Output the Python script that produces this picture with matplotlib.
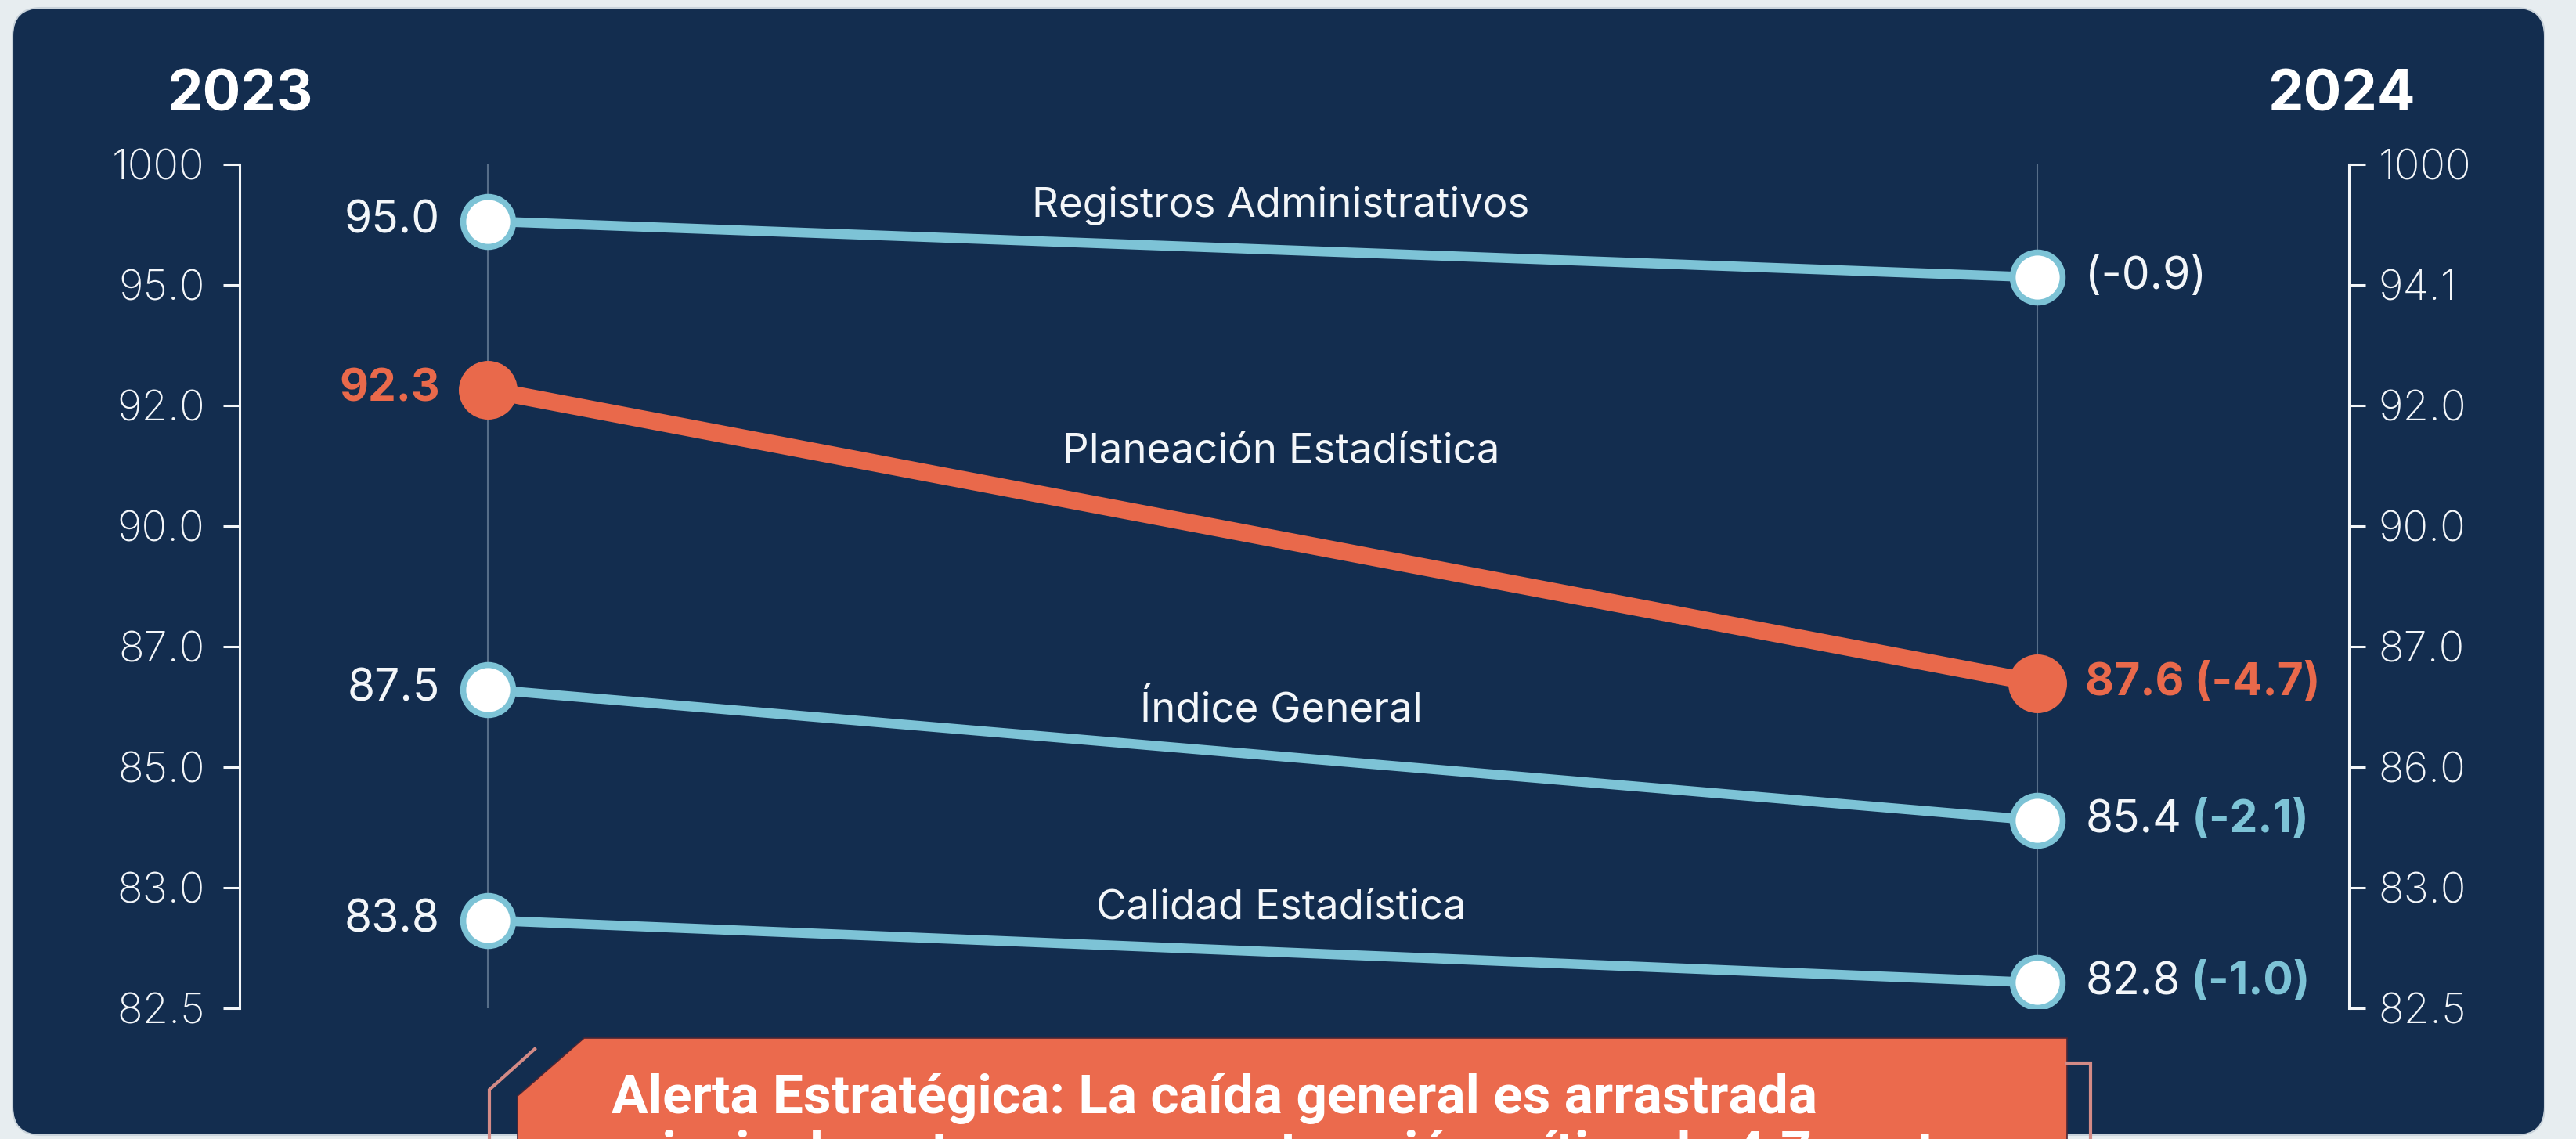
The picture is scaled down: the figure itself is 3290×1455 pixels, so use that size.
import matplotlib
matplotlib.use("Agg")
import matplotlib.pyplot as plt
from matplotlib.patches import FancyBboxPatch, Polygon
import numpy as np

plt.rcParams['font.family'] = ['Inter', 'DejaVu Sans']

# --- Data ---
years = ["2023", "2024"]
series = ["Registros Administrativos", "Planeación Estadística", "Índice General", "Calidad Estadística"]
score_2023 = [95.0, 92.3, 87.5, 83.8]
score_2024 = [94.1, 87.6, 85.4, 82.8]
highlight = "Planeación Estadística"
show_end_value = [False, True, True, True]
left_tick_labels = ["1000", "95.0", "92.0", "90.0", "87.0", "85.0", "83.0", "82.5"]
right_tick_labels = ["1000", "94.1", "92.0", "90.0", "87.0", "86.0", "83.0", "82.5"]
alert_lines = ["Alerta Estratégica: La caída general es arrastrada",
               "principalmente por una contracción crítica de 4.7 puntos"]

# --- Colours ---
page = "#e7edf0"
navy = "#132d4f"
blue = "#7dc3d6"
orange = "#e9694b"
guide = "#566d88"
white = "#f3f6f9"
alert_fill = "#eb6a4d"
bracket = "#d38a86"

W, H = 3290, 1455
fig = plt.figure(figsize=(W / 100, H / 100), dpi=100)
fig.patch.set_facecolor(page)

# background layer in pixel coords (panel, callout, year headers)
bg = fig.add_axes([0, 0, 1, 1])
bg.set_xlim(0, W)
bg.set_ylim(H, 0)
bg.axis('off')
r = 36
bg.add_patch(FancyBboxPatch((16 + r, 10 + r), 3234 - 2 * r, 1440 - 2 * r,
                            boxstyle=f"round,pad={r}", fc=navy, ec="#c9d3db", lw=1.5))

bg.add_patch(Polygon([(661, 1400), (746, 1326), (2640, 1326), (2640, 1480), (661, 1480)],
                     closed=True, fc=alert_fill, ec="#4a2636", lw=1.2))
bg.plot([683, 625, 625], [1340, 1392, 1480], color=bracket, lw=3, solid_joinstyle='miter')
bg.plot([2640, 2670, 2670], [1358, 1358, 1480], color=bracket, lw=3, solid_joinstyle='miter')
bg.text(781, 1422, alert_lines[0], fontsize=50, weight='bold', color='white',
        va='baseline', ha='left', family=['Roboto', 'DejaVu Sans'])
bg.text(781, 1494, alert_lines[1], fontsize=50, weight='bold', color='white',
        va='baseline', ha='left', family=['Roboto', 'DejaVu Sans'])

bg.text(306, 122, years[0], ha='center', va='center', fontsize=52, weight='bold', color='white')
bg.text(2990, 122, years[1], ha='center', va='center', fontsize=52, weight='bold', color='white')

# --- Main slope chart ---
ax = fig.add_axes([306 / W, 1 - 1288 / H, (3000 - 306) / W, (1288 - 210) / H])
ax.set_facecolor('none')
ax.set_xlim(-0.1602, 1.2011)
ax.set_ylim(82.39, 95.91)

for x in (0, 1):
    ax.axvline(x, color=guide, lw=1.5, zorder=1)

for i, name in enumerate(series):
    a, b = score_2023[i], score_2024[i]
    hi = name == highlight
    col = orange if hi else blue
    ax.plot([0, 1], [a, b], color=col, lw=16 if hi else 9, solid_capstyle='butt', zorder=3 if hi else 2)
    if hi:
        ax.plot([0, 1], [a, b], 'o', ms=54, mfc=orange, mec=orange, mew=0, zorder=5)
    else:
        ax.plot([0, 1], [a, b], 'o', ms=46, mfc='white', mec=blue, mew=5.5, zorder=4)

    # start value
    ax.annotate(f"{a:.1f}", (0, a), xytext=(-44, 0), textcoords='offset points',
                ha='right', va='center', fontsize=41,
                color=orange if hi else white, weight='bold' if hi else 'normal')

    # end value + change
    change = f"({b - a:.1f})"
    if hi:
        ax.annotate(f"{b:.1f} {change}", (1, b), xytext=(44, 0), textcoords='offset points',
                    ha='left', va='center', fontsize=41, color=orange, weight='bold')
    elif show_end_value[i]:
        t = ax.annotate(f"{b:.1f}", (1, b), xytext=(44, 0), textcoords='offset points',
                        ha='left', va='center', fontsize=41, color=white)
        ax.annotate(" " + change, xy=(1, 0), xycoords=t, ha='left', va='bottom',
                    fontsize=41, color=blue, weight='bold')
    else:
        ax.annotate(change, (1, b), xytext=(44, 0), textcoords='offset points',
                    ha='left', va='center', fontsize=41, color=white)

    # series name above the line
    ax.annotate(name, (0.5, (a + b) / 2), xytext=(17, 78 if hi else 40), textcoords='offset points',
                ha='center', va='center', fontsize=38, color=white)

ticks = np.linspace(ax.get_ylim()[1], ax.get_ylim()[0], len(left_tick_labels))
ax.set_yticks(ticks, labels=left_tick_labels)
ax.set_xticks([])
ax.tick_params(axis='y', direction='out', length=15, width=2.2, color=white,
               pad=17, labelsize=39, labelcolor=white)
for lbl in ax.get_yticklabels():
    lbl.set_fontweight('light')
for s in ('top', 'bottom', 'right'):
    ax.spines[s].set_visible(False)
ax.spines['left'].set_color(white)
ax.spines['left'].set_linewidth(2.2)

twin = ax.twinx()
twin.set_ylim(ax.get_ylim())
twin.set_yticks(ticks, labels=right_tick_labels)
twin.tick_params(axis='y', direction='out', length=15, width=2.2, color=white,
                 pad=12, labelsize=39, labelcolor=white)
for lbl in twin.get_yticklabels():
    lbl.set_fontweight('light')
for s in ('top', 'bottom', 'left'):
    twin.spines[s].set_visible(False)
twin.spines['right'].set_color(white)
twin.spines['right'].set_linewidth(2.2)

fig.savefig("out.png", dpi=100, facecolor=fig.get_facecolor())
